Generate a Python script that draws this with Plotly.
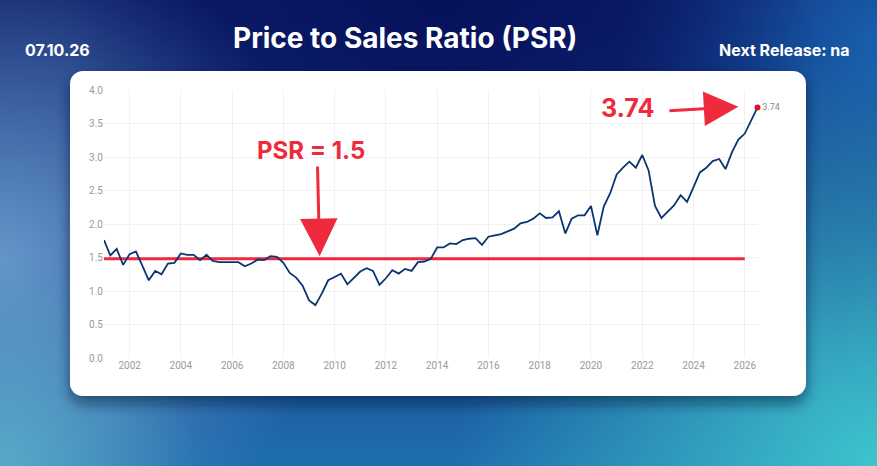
import base64
import pandas as pd
import plotly.graph_objects as go

# quarterly price-to-sales ratio, 2001Q1 .. 2026Q3
quarters = pd.date_range("2001-01-01", periods=103, freq="QS")
psr = [
    1.76, 1.53, 1.63, 1.39, 1.55, 1.59, 1.38, 1.16, 1.30, 1.25, 1.41, 1.42,
    1.56, 1.54, 1.54, 1.46, 1.54, 1.45, 1.43, 1.43, 1.42, 1.43, 1.37, 1.41,
    1.47, 1.46, 1.52, 1.51, 1.42, 1.27, 1.20, 1.08, 0.86, 0.79, 0.96, 1.16,
    1.21, 1.26, 1.10, 1.19, 1.29, 1.34, 1.30, 1.09, 1.19, 1.31, 1.26, 1.33,
    1.30, 1.43, 1.44, 1.48, 1.65, 1.65, 1.71, 1.70, 1.76, 1.78, 1.79, 1.69,
    1.81, 1.83, 1.85, 1.89, 1.93, 2.01, 2.03, 2.08, 2.16, 2.09, 2.10, 2.19,
    1.86, 2.08, 2.13, 2.13, 2.27, 1.83, 2.26, 2.46, 2.74, 2.84, 2.93, 2.84,
    3.03, 2.80, 2.27, 2.09, 2.18, 2.28, 2.43, 2.33, 2.55, 2.77, 2.84, 2.94,
    2.97, 2.82, 3.07, 3.26, 3.35, 3.54, 3.74,
]
ref_dates = ["2001-01-01", "2026-01-01"]
ref_level = [1.48, 1.48]
y_ticks = [0, 0.5, 1.0, 1.5, 2.0, 2.5, 3.0, 3.5, 4.0]
x_ticks = [f"{y}-01-01" for y in range(2002, 2027, 2)]
x_labels = [str(y) for y in range(2002, 2027, 2)]

W, H = 877, 466
L, R, T, B = 104, 119, 90, 108

# background gradient + white card, as an inline svg
svg = f"""<svg xmlns='http://www.w3.org/2000/svg' width='{W}' height='{H}' viewBox='0 0 {W} {H}' preserveAspectRatio='none'>
<defs>
<linearGradient id='g0' x1='0' y1='0' x2='0' y2='1'>
<stop offset='0' stop-color='#0c1c68'/><stop offset='0.55' stop-color='#163f8c'/><stop offset='1' stop-color='#1f6eae'/></linearGradient>
<radialGradient id='g1' cx='877' cy='466' r='420' gradientUnits='userSpaceOnUse'>
<stop offset='0' stop-color='#3ec4cc' stop-opacity='1'/><stop offset='1' stop-color='#3ec4cc' stop-opacity='0'/></radialGradient>
<radialGradient id='g2' cx='0' cy='260' r='330' gradientUnits='userSpaceOnUse'>
<stop offset='0' stop-color='#6d9fd0' stop-opacity='0.9'/><stop offset='1' stop-color='#6d9fd0' stop-opacity='0'/></radialGradient>
<radialGradient id='g3' cx='0' cy='466' r='200' gradientUnits='userSpaceOnUse'>
<stop offset='0' stop-color='#5fb4cc' stop-opacity='0.8'/><stop offset='1' stop-color='#5fb4cc' stop-opacity='0'/></radialGradient>
<radialGradient id='g4' cx='440' cy='0' r='380' gradientUnits='userSpaceOnUse'>
<stop offset='0' stop-color='#06105a' stop-opacity='0.9'/><stop offset='1' stop-color='#06105a' stop-opacity='0'/></radialGradient>
<radialGradient id='g5' cx='877' cy='40' r='260' gradientUnits='userSpaceOnUse'>
<stop offset='0' stop-color='#1a66b4' stop-opacity='0.9'/><stop offset='1' stop-color='#1a66b4' stop-opacity='0'/></radialGradient>
<filter id='sh' x='-10%' y='-10%' width='120%' height='130%'>
<feDropShadow dx='0' dy='7' stdDeviation='7' flood-color='#001030' flood-opacity='0.55'/></filter>
</defs>
<rect width='{W}' height='{H}' fill='url(#g0)'/>
<rect width='{W}' height='{H}' fill='url(#g2)'/>
<rect width='{W}' height='{H}' fill='url(#g3)'/>
<rect width='{W}' height='{H}' fill='url(#g5)'/>
<rect width='{W}' height='{H}' fill='url(#g1)'/>
<rect width='{W}' height='{H}' fill='url(#g4)'/>
<rect x='70' y='71' width='736' height='325' rx='13' ry='13' fill='#ffffff' filter='url(#sh)'/>
</svg>"""
bg = "data:image/svg+xml;base64," + base64.b64encode(svg.encode()).decode()

pw, ph = W - L - R, H - T - B

fig = go.Figure()
fig.add_trace(go.Scatter(x=ref_dates, y=ref_level, mode="lines",
                         line=dict(color="#ee2a3c", width=3), hoverinfo="skip"))
fig.add_trace(go.Scatter(x=quarters, y=psr, mode="lines",
                         line=dict(color="#0b3571", width=1.8)))
fig.add_trace(go.Scatter(x=[quarters[-1]], y=[psr[-1]], mode="markers+text",
                         marker=dict(color="#e0102c", size=6),
                         text=[f"{psr[-1]:.2f}"], textposition="middle right",
                         textfont=dict(family="Roboto", size=9, color="#8a8a8a"),
                         cliponaxis=False))

red = "#ee2a3c"
fig.add_annotation(x="2009-02-01", y=3.10, text="<b>PSR = 1.5</b>", showarrow=False,
                   font=dict(family="Inter", size=24, color=red))
fig.add_annotation(x="2009-06-01", y=1.52, ax="2009-05-01", ay=2.88,
                   xref="x", yref="y", axref="x", ayref="y", text="",
                   showarrow=True, arrowhead=2, arrowsize=2.5, arrowwidth=3, arrowcolor=red)
fig.add_annotation(x="2021-06-10", y=3.73, text="<b>3.74</b>", showarrow=False,
                   font=dict(family="Inter", size=25, color=red))
fig.add_annotation(x="2025-10-01", y=3.75, ax="2023-01-01", ay=3.69,
                   xref="x", yref="y", axref="x", ayref="y", text="",
                   showarrow=True, arrowhead=2, arrowsize=2.3, arrowwidth=3, arrowcolor=red)

fig.add_annotation(xref="paper", yref="paper", x=(405 - L) / pw, y=(H - B - 38) / ph,
                   xanchor="center", yanchor="middle",
                   text="<b>Price to Sales Ratio (PSR)</b>", showarrow=False,
                   font=dict(family="Inter", size=28, color="white"))
fig.add_annotation(xref="paper", yref="paper", x=(23 - L) / pw, y=(H - B - 50) / ph,
                   xanchor="left", yanchor="middle", text="<b>07.10.26</b>", showarrow=False,
                   font=dict(family="Inter", size=16, color="white"))
fig.add_annotation(xref="paper", yref="paper", x=(852 - L) / pw, y=(H - B - 50) / ph,
                   xanchor="right", yanchor="middle", text="<b>Next Release: na</b>",
                   showarrow=False, font=dict(family="Inter", size=16, color="white"))

fig.add_layout_image(source=bg, xref="paper", yref="paper",
                     x=-L / pw, y=(H - B) / ph, sizex=W / pw, sizey=H / ph,
                     xanchor="left", yanchor="top", sizing="stretch", layer="below")

fig.update_layout(
    width=W, height=H,
    margin=dict(l=L, r=R, t=T, b=B),
    paper_bgcolor="#163f8c", plot_bgcolor="rgba(0,0,0,0)",
    showlegend=False,
    font=dict(family="Roboto", color="#9a9a9a", size=10),
)
fig.update_xaxes(range=["2001-01-01", "2026-07-08"], tickvals=x_ticks, ticktext=x_labels,
                 showgrid=True, gridcolor="#f1f1f3", zeroline=False, showline=False,
                 tickfont=dict(size=10, color="#9a9a9a"))
fig.update_yaxes(range=[0, 4.0], tickvals=y_ticks, tickformat=".1f",
                 showgrid=True, gridcolor="#f1f1f3", zeroline=False, showline=False,
                 tickfont=dict(size=10, color="#9a9a9a"))

fig.write_html("out.html", config={"displayModeBar": False},
               post_script="document.body.style.margin='0';")
